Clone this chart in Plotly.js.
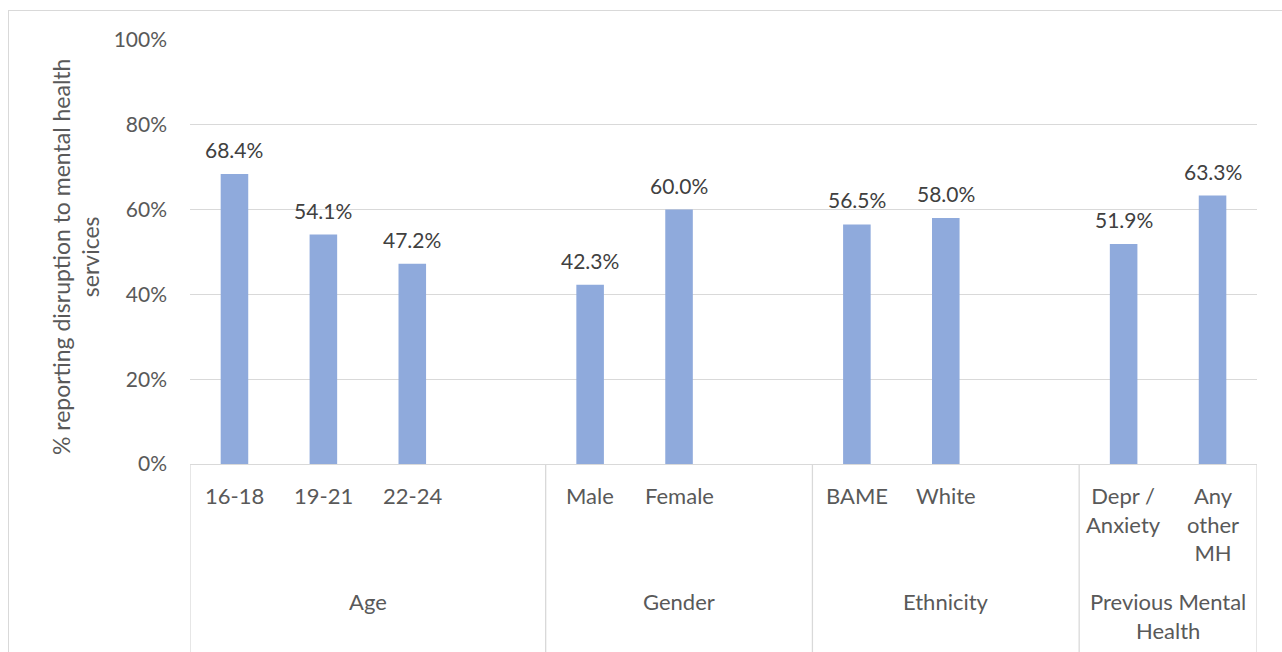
<!DOCTYPE html>
<html>
<head>
<meta charset="utf-8">
<script src="https://cdn.plot.ly/plotly-3.0.1.min.js"></script>
<style>
  html, body { margin: 0; padding: 0; overflow: hidden; background: #fff; }
  #chart { position: absolute; left: 0; top: 0; width: 1282px; height: 652px; }
  #frame { position: absolute; left: 8px; top: 10px; width: 1400px; height: 800px;
           border: 1px solid #d9d9d9; pointer-events: none; box-sizing: border-box; }
</style>
</head>
<body>
<div id="chart"></div>
<div id="frame"></div>
<script>
// ---- data ----
const categories = ['16-18', '19-21', '22-24', '', 'Male', 'Female', '', 'BAME', 'White', '', 'Depr /<br>Anxiety', 'Any<br>other<br>MH'];
const groupOf = ['Age', 'Age', 'Age', 'Age', 'Gender', 'Gender', 'Gender', 'Ethnicity', 'Ethnicity', 'Ethnicity', 'Previous Mental<br>Health', 'Previous Mental<br>Health'];
const values = [68.4, 54.1, 47.2, null, 42.3, 60.0, null, 56.5, 58.0, null, 51.9, 63.3];
const yTicks = [0, 20, 40, 60, 80, 100];
const yTitle = '% reporting disruption to mental health<br>services';

// ---- build ----
const FONT = 'Lato, "Open Sans", sans-serif';
const barX = [], barY = [];
values.forEach((v, i) => { if (v !== null) { barX.push(i); barY.push(v); } });

const annotations = [];
// data labels
barX.forEach((x, k) => {
  annotations.push({
    x: x, y: barY[k], xref: 'x', yref: 'y', text: barY[k].toFixed(1) + '%',
    showarrow: false, yanchor: 'bottom', yshift: 10,
    font: { family: FONT, size: 21, color: '#404040' }
  });
});
// category labels
categories.forEach((c, i) => {
  if (!c) return;
  annotations.push({
    x: i, y: 0, xref: 'x', yref: 'paper', text: c, showarrow: false,
    yanchor: 'top', yshift: -16, align: 'center',
    font: { family: FONT, size: 22, color: '#595959' }
  });
});
// group labels and dividers
const groups = [];
groupOf.forEach((g, i) => {
  if (!groups.length || groups[groups.length - 1].name !== g) groups.push({ name: g, start: i, end: i });
  else groups[groups.length - 1].end = i;
});
const shapes = [];
const lineStyle = { color: '#d9d9d9', width: 1.3 };
groups.forEach((g, k) => {
  annotations.push({
    x: (g.start + g.end) / 2, y: 0, xref: 'x', yref: 'paper', text: g.name, showarrow: false,
    yanchor: 'top', yshift: -122, align: 'center',
    font: { family: FONT, size: 22, color: '#595959' }
  });
  const bounds = [g.start - 0.5];
  if (k === groups.length - 1) bounds.push(g.end + 0.5);
  bounds.forEach(b => {
    shapes.push({ type: 'line', xref: 'x', yref: 'paper', x0: b, x1: b, y0: 0, y1: -0.5, line: lineStyle, layer: 'below' });
  });
});
// y axis title
annotations.push({
  x: -0.107, y: 0.49, xref: 'paper', yref: 'paper', text: yTitle, showarrow: false,
  textangle: -90, xanchor: 'center', yanchor: 'middle', align: 'center',
  font: { family: FONT, size: 23, color: '#595959' }
});

const trace = {
  type: 'bar', x: barX, y: barY, width: 0.31,
  marker: { color: '#8faadc', line: { width: 0 } },
  hoverinfo: 'skip'
};

const layout = {
  width: 1282, height: 652,
  margin: { l: 190, r: 25, t: 40, b: 188, pad: 0 },
  paper_bgcolor: '#ffffff', plot_bgcolor: '#ffffff',
  showlegend: false,
  xaxis: {
    type: 'linear', range: [-0.5, categories.length - 0.5], showticklabels: false,
    showgrid: false, zeroline: false, showline: true, linecolor: '#d9d9d9', linewidth: 1.3,
    ticks: '', fixedrange: true
  },
  yaxis: {
    range: [0, 100], tickvals: yTicks, ticktext: yTicks.map(t => t + '%'),
    showgrid: true, gridcolor: '#d9d9d9', gridwidth: 1.3, zeroline: false, showline: false,
    ticks: '', ticklabelstandoff: 22,
    tickfont: { family: FONT, size: 21, color: '#595959' }, fixedrange: true
  },
  annotations: annotations,
  shapes: shapes
};

Plotly.newPlot('chart', [trace], layout, { displayModeBar: false, staticPlot: true });
</script>
</body>
</html>
